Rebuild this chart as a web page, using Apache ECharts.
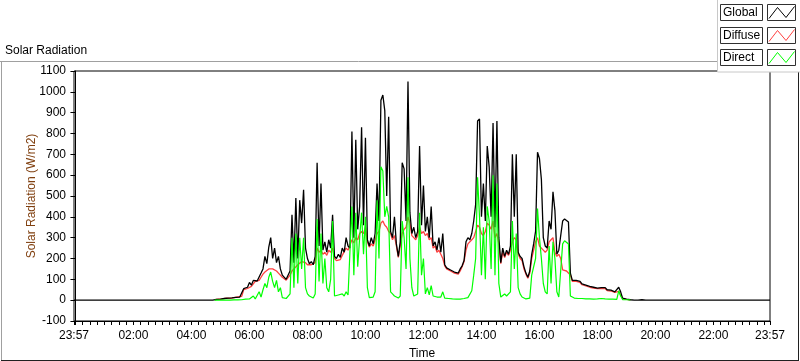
<!DOCTYPE html>
<html><head><meta charset="utf-8">
<script src="https://cdn.jsdelivr.net/npm/echarts@6/dist/echarts.min.js"></script>
<style>html,body{margin:0;padding:0;background:#fff}#c{width:800px;height:361px}</style>
</head><body><div id="c"></div>
<script>
// ---- data ----
const seriesNames = ['Global', 'Diffuse', 'Direct'];
const sampleStartMin = 268;   // 04:28, minutes after midnight
const sampleStepMin = 4;
const dayStartMin = -3;       // 23:57 previous day
const dayEndMin = 1437;       // 23:57

const globalW = [
0,0,0,0,0, 3,4,5,5,6, 8,10,10,9,11, 12,13,16,15,18,
55,58,62,85,72, 95,104,92,100,130, 150,210,175,255,300, 200,250,180,210,150,
120,112,100,108,140, 410,180,490,200,480, 370,530,250,200,175, 185,170,210,660,260,
560,240,280,230,290, 250,410,210,200,220, 205,250,230,300,260, 250,810,300,770,340,
450,830,360,780,290, 260,300,270,320,560, 380,960,985,910,500, 880,330,300,400,270,
210,280,660,630,380, 1050,420,320,350,300, 330,740,360,550,330, 400,300,450,260,280,
240,300,230,320,170, 155,150,145,140,135, 128,130,150,165,190, 280,300,290,320,380,
460,860,870,400,560, 380,740,640,400,850, 350,860,300,180,250, 210,240,220,260,700,
400,700,230,210,200, 160,130,110,140,220, 270,330,710,680,580, 300,260,250,380,340,
520,430,220,240,240, 380,390,385,375,130, 95,88,95,100,90, 78,75,72,68,66,
64,62,62,58,55, 60,68,60,50,45, 48,42,40,38,62, 40,10,8,5,4,
2,0,0,0,0, 3,2,0,0,0,0
];
const diffuseW = [
null,null,null,null,null, 3,4,5,5,6, 8,10,10,9,11, 12,13,16,15,18,
50,52,56,62,66, 72,90,88,95,110, 125,135,140,150,155, 150,145,140,130,125,
110,104,96,100,120, 140,150,160,170,175, 185,190,180,170,165, 170,165,180,250,230,
240,220,230,215,240, 230,250,200,190,195, 195,215,210,250,240, 240,290,275,300,290,
320,330,320,350,280, 255,270,260,290,320, 330,370,380,360,350, 330,320,290,310,260,
205,260,320,340,350, 400,370,310,300,290, 310,350,320,330,310, 320,290,300,250,260,
230,240,220,200,165, 150,145,140,135,130, 125,125,140,160,185, 240,270,275,290,300,
330,360,350,320,310, 330,370,360,340,380, 300,320,270,175,230, 205,230,215,240,280,
300,290,220,200,190, 150,125,105,130,200, 240,280,300,260,250, 240,230,240,280,290,
300,230,210,220,200, 145,140,140,138,120, 90,85,90,95,85, 74,72,68,65,62,
60,58,58,55,52, 56,62,56,46,42, 44,40,37,35,42, 36,8,6,4,3,
2,null,null,null,null, null,null,null,null,null,null
];
const directW = [
null,null,null,null,null, 0,0,0,0,0, 0,0,0,0,0, 1,1,1,2,2,
4,5,4,6,5, 20,6,8,40,15, 50,80,60,110,135, 90,60,95,40,60,
12,8,8,10,30, 300,60,320,80,300, 150,300,60,30,20, 12,10,30,390,90,
320,80,200,60,40, 100,380,20,15,25, 18,30,20,40,25, 30,450,120,420,160,
300,420,220,400,60, 12,10,15,40,480, 200,640,620,400,450, 400,40,30,20,15,
10,20,380,300,150, 590,200,60,20,12, 30,420,120,200,30, 60,25,70,20,12,
15,20,15,40,10, 8,8,6,6,5, 5,6,5,6,8, 10,12,15,45,120,
200,590,400,120,350, 100,450,380,150,600, 120,560,80,15,20, 30,20,15,40,380,
150,320,60,30,15, 8,6,6,10,120, 120,200,440,300,200, 80,40,30,260,80,
280,200,40,15,20, 270,285,280,270,20, 12,10,8,8,8, 8,8,6,6,6,
6,5,5,6,5, 8,10,6,5,5, 4,5,4,4,45, 20,3,2,2,2,
1,null,null,null,null, null,null,null,null,null,null
];
const xLabelMinutes = [-3,120,240,360,480,600,720,840,960,1080,1200,1320,1437];
const yMin = -100, yMax = 1100, yStep = 100;

// ---- build ----
const sampleTimes = globalW.map((_, i) => sampleStartMin + i * sampleStepMin);
function toPairs(arr){ const out=[]; arr.forEach((v,i)=>{ if(v!==null) out.push([sampleTimes[i], v]); }); return out; }
const gData = [[dayStartMin, 0]].concat(toPairs(globalW), [[dayEndMin, 0]]);
const dData = toPairs(diffuseW);
const sData = toPairs(directW);
const xTickMinutes = [dayStartMin];
for (let m = 0; m <= 1425; m += 15) xTickMinutes.push(m);
xTickMinutes.push(dayEndMin);
function pad(n){ return (n<10?'0':'')+n; }
function fmt(v){ const m=((Math.round(v)%1440)+1440)%1440; return pad(Math.floor(m/60))+':'+pad(m%60); }

const FONT = 'Liberation Sans, Arial, sans-serif';
const colors = { Global:'#000000', Diffuse:'#ff4040', Direct:'#00ff00' };

const legendRows = [4, 27, 49];
const legendGraphics = [];
legendGraphics.push({type:'rect', z:100, shape:{x:717.5, y:-1, width:84, height:73}, style:{fill:'#ffffff', stroke:'#c8c8c8', lineWidth:1}});
seriesNames.forEach((n, k) => {
  const y0 = legendRows[k];
  legendGraphics.push({type:'rect', z:101, shape:{x:720.5, y:y0+0.5, width:42, height:16}, style:{fill:'#fff', stroke:'#303030', lineWidth:1}});
  legendGraphics.push({type:'text', z:102, x:723, y:y0+9, style:{text:n, font:'12px '+FONT, fill:'#000', verticalAlign:'middle', align:'left'}});
  legendGraphics.push({type:'rect', z:101, shape:{x:767.5, y:y0+0.5, width:28, height:16}, style:{fill:'#fff', stroke:'#303030', lineWidth:1}});
  legendGraphics.push({type:'polyline', z:102, shape:{points:[[769,y0+14.5],[777.5,y0+3.5],[786,y0+13.5],[794.5,y0+2.5]]}, style:{stroke:colors[n], lineWidth:1, fill:null}});
});

const chart = echarts.init(document.getElementById('c'), null, {renderer:'canvas'});
chart.setOption({
  animation:false,
  backgroundColor:'#ffffff',
  textStyle:{fontFamily:FONT},
  grid:{left:74, right:30, top:71, bottom:40, show:true, borderColor:'#000', borderWidth:1, backgroundColor:'transparent', containLabel:false, outerBoundsMode:'none'},
  xAxis:{
    type:'value', min:dayStartMin, max:dayEndMin,
    axisLine:{show:true, onZero:false, lineStyle:{color:'#000', width:1}},
    axisTick:{show:true, length:4, customValues:xTickMinutes, lineStyle:{color:'#000'}},
    axisLabel:{customValues:xLabelMinutes, formatter:fmt, color:'#000', fontSize:12, margin:9, fontFamily:FONT},
    splitLine:{show:false},
    name:'Time', nameLocation:'middle', nameGap:27, nameMoveOverlap:false,
    nameTextStyle:{color:'#000', fontSize:12, fontFamily:FONT}
  },
  yAxis:{
    type:'value', min:yMin, max:yMax, interval:yStep,
    axisLine:{show:true, lineStyle:{color:'#000', width:1}},
    axisTick:{show:true, length:5, lineStyle:{color:'#000'}},
    axisLabel:{color:'#000', fontSize:12, margin:8, fontFamily:FONT, formatter:v => String(v)},
    splitLine:{show:false},
    name:'Solar Radiation (W/m2)', nameLocation:'middle', nameGap:36, nameRotate:90, nameMoveOverlap:false,
    nameTextStyle:{color:'#804010', fontSize:12, fontFamily:FONT}
  },
  graphic:[
    {type:'text', left:5, top:45, style:{text:'Solar Radiation', font:'12px '+FONT, fill:'#000'}},
    {type:'line', shape:{x1:0, y1:61.5, x2:717, y2:61.5}, style:{stroke:'#a0a0a0', lineWidth:1}},
    {type:'line', shape:{x1:1.5, y1:61, x2:1.5, y2:361}, style:{stroke:'#a0a0a0', lineWidth:1}},
    {type:'line', shape:{x1:798.5, y1:72, x2:798.5, y2:361}, style:{stroke:'#202020', lineWidth:1}},
    {type:'line', shape:{x1:1, y1:360.5, x2:799, y2:360.5}, style:{stroke:'#202020', lineWidth:1}}
  ].concat(legendGraphics),
  series:[
    {name:'Diffuse', type:'line', data:dData, symbol:'none', lineStyle:{color:colors.Diffuse, width:1.3}, itemStyle:{color:colors.Diffuse}, silent:true},
    {name:'Global', type:'line', data:gData, symbol:'none', lineStyle:{color:colors.Global, width:1.3}, itemStyle:{color:colors.Global}, silent:true},
    {name:'Direct', type:'line', data:sData, symbol:'none', lineStyle:{color:colors.Direct, width:1.2}, itemStyle:{color:colors.Direct}, silent:true}
  ]
});
</script></body></html>
